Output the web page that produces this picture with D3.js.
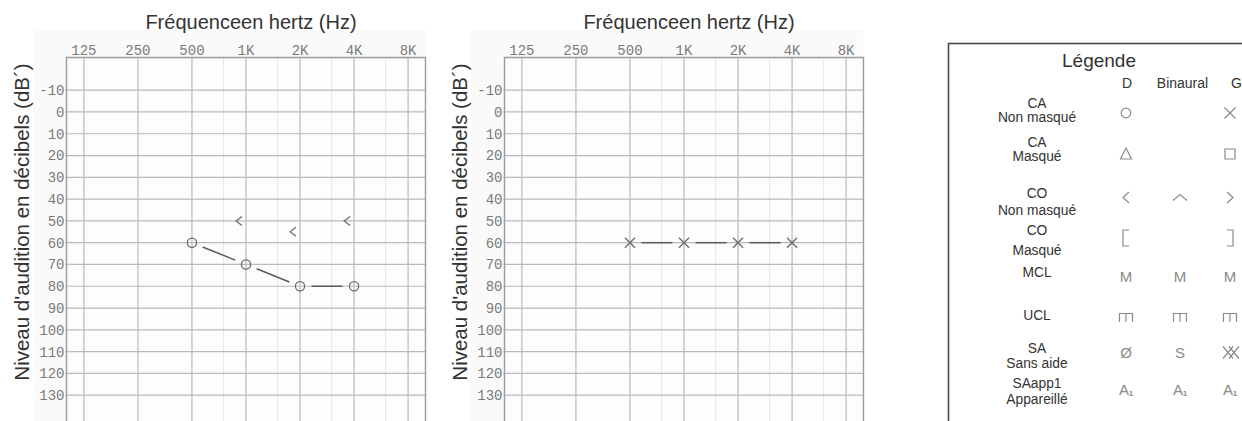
<!DOCTYPE html>
<html><head><meta charset="utf-8">
<script src="https://cdn.jsdelivr.net/npm/d3@7"></script>
<style>body{margin:0;background:#fff} svg{display:block}</style>
</head><body><svg id="c" width="1242" height="421"></svg>
<script>
// ---------- data ----------
const freqs = [125, 250, 500, 1000, 2000, 4000, 8000];
const freqLabels = ["125", "250", "500", "1K", "2K", "4K", "8K"];
const halfOctaves = [750, 1500, 3000, 6000];
const dbTicks = [-10, 0, 10, 20, 30, 40, 50, 60, 70, 80, 90, 100, 110, 120, 130];
const xTitle = "Fréquenceen hertz (Hz)";
const yTitle = "Niveau d'audition en décibels (dB´)";

// left audiogram: right ear air conduction (O) and bone conduction (<)
const leftACFreq = [500, 1000, 2000, 4000];
const leftACdB = [60, 70, 80, 80];
const leftBCFreq = [1000, 2000, 4000];
const leftBCdB = [50, 55, 50];

// right audiogram: left ear air conduction (X)
const rightACFreq = [500, 1000, 2000, 4000];
const rightACdB = [60, 60, 60, 60];

// legend
const legendTitle = "Légende";
const legendCols = ["D", "Binaural", "G"];
const legendLine1 = ["CA", "CA", "CO", "CO", "MCL", "UCL", "SA", "SAapp1"];
const legendLine2 = ["Non masqué", "Masqué", "Non masqué", "Masqué", "", "", "Sans aide", "Appareillé"];
const legendSymbols = [
  ["circle", null, "cross"],
  ["triangle", null, "square"],
  ["lt", "caret", "gt"],
  ["lbr", null, "rbr"],
  ["M", "M", "M"],
  ["ucl", "ucl", "ucl"],
  ["oslash", "S", "xx"],
  ["A1", "A1", "A1"]
];

// ---------- layout ----------
const svg = d3.select("#c");
const W = 1242, H = 421;
const chartOffsets = [0, 438];
const plotL = 66.5, plotR = 425.5, plotT = 57.5;
const dBpx = 2.1786;
const gridCol = "#b9b9b9";
const markCol = "#6a6a6a";
const lineCol = "#5a5a5a";
const sansFont = "'Liberation Sans', Arial, sans-serif";
const monoFont = "'Liberation Mono', 'Courier New', monospace";

function drawChart(dx, ac, bc, acSymbol) {
  const g = svg.append("g").attr("transform", `translate(${dx},0)`);
  const x = d3.scaleLog().base(2).domain([100, 10000]).range([plotL, plotR]);
  const y = d3.scaleLinear().domain([-25, 145]).range([plotT, plotT + 170 * dBpx]);
  const yB = Math.min(H + 5, y(145));

  // light panel
  g.append("rect").attr("x", 33).attr("y", 30).attr("width", plotR - 33).attr("height", H - 30)
    .attr("fill", "#fafafa");
  g.append("rect").attr("x", plotL).attr("y", plotT).attr("width", plotR - plotL).attr("height", H - plotT)
    .attr("fill", "#fdfdfd");

  // half-octave dotted lines
  g.selectAll(".half").data(halfOctaves).enter().append("line")
    .attr("x1", d => x(d)).attr("x2", d => x(d)).attr("y1", plotT).attr("y2", yB)
    .attr("stroke", "#cfcfcf").attr("stroke-width", 1).attr("stroke-dasharray", "1,1");
  // octave lines
  g.selectAll(".oct").data(freqs).enter().append("line")
    .attr("x1", d => x(d)).attr("x2", d => x(d)).attr("y1", plotT).attr("y2", yB)
    .attr("stroke", gridCol).attr("stroke-width", 1.2);
  // horizontal lines
  g.selectAll(".hl").data(dbTicks).enter().append("line")
    .attr("x1", plotL - 1).attr("x2", plotR).attr("y1", d => y(d)).attr("y2", d => y(d))
    .attr("stroke", gridCol).attr("stroke-width", 1.2);
  // border
  g.append("path").attr("d", `M${plotL},${yB}V${plotT}H${plotR}V${yB}`)
    .attr("fill", "none").attr("stroke", "#9a9a9a").attr("stroke-width", 1.4);

  // top tick labels
  g.selectAll(".xt").data(freqs).enter().append("text")
    .attr("x", d => x(d)).attr("y", 55).attr("text-anchor", "middle")
    .attr("font-family", monoFont).attr("font-size", 14).attr("fill", "#7a7a7a")
    .text((d, i) => freqLabels[i]);
  // left tick labels
  g.selectAll(".yt").data(dbTicks).enter().append("text")
    .attr("x", plotL - 2).attr("y", d => y(d)).attr("dy", "0.35em").attr("text-anchor", "end")
    .attr("font-family", monoFont).attr("font-size", 14).attr("fill", "#7a7a7a")
    .text(d => String(d));

  // titles
  g.append("text").attr("x", x(1000) + 5).attr("y", 28.5).attr("text-anchor", "middle")
    .attr("font-family", sansFont).attr("font-size", 20).attr("fill", "#333")
    .text(xTitle);
  g.append("text").attr("transform", `translate(28.5,222) rotate(-90)`).attr("text-anchor", "middle")
    .attr("font-family", sansFont).attr("font-size", 20.5).attr("fill", "#333")
    .text(yTitle);

  // connecting segments with gaps around markers
  const gap = 11.5;
  const pts = ac.f.map((f, i) => [x(f), y(ac.db[i])]);
  for (let i = 0; i < pts.length - 1; i++) {
    const [x1, y1] = pts[i], [x2, y2] = pts[i + 1];
    const len = Math.hypot(x2 - x1, y2 - y1);
    const ux = (x2 - x1) / len, uy = (y2 - y1) / len;
    g.append("line")
      .attr("x1", x1 + ux * gap).attr("y1", y1 + uy * gap)
      .attr("x2", x2 - ux * gap).attr("y2", y2 - uy * gap)
      .attr("stroke", lineCol).attr("stroke-width", 1.5);
  }
  // AC markers
  pts.forEach(([px, py]) => {
    if (acSymbol === "circle") {
      g.append("circle").attr("cx", px).attr("cy", py).attr("r", 4.6)
        .attr("fill", "none").attr("stroke", markCol).attr("stroke-width", 1.3);
    } else {
      const s = 5;
      g.append("path").attr("d", `M${px - s},${py - s}L${px + s},${py + s}M${px - s},${py + s}L${px + s},${py - s}`)
        .attr("stroke", markCol).attr("stroke-width", 1.3).attr("fill", "none");
    }
  });
  // BC markers "<"
  if (bc) {
    bc.f.forEach((f, i) => {
      const cx = x(f) - 7, cy = y(bc.db[i]);
      g.append("path").attr("d", `M${cx + 3},${cy - 4.5}L${cx - 3},${cy}L${cx + 3},${cy + 4.5}`)
        .attr("fill", "none").attr("stroke", markCol).attr("stroke-width", 1.2);
    });
  }
}

drawChart(chartOffsets[0], { f: leftACFreq, db: leftACdB }, { f: leftBCFreq, db: leftBCdB }, "circle");
drawChart(chartOffsets[1], { f: rightACFreq, db: rightACdB }, null, "cross");

// ---------- legend ----------
const lg = svg.append("g");
lg.append("rect").attr("x", 948.5).attr("y", 43.5).attr("width", 400).attr("height", 420)
  .attr("fill", "#fff").attr("stroke", "#4a4a4a").attr("stroke-width", 1.6);
lg.append("text").attr("x", 1099).attr("y", 67.3).attr("text-anchor", "middle")
  .attr("font-family", sansFont).attr("font-size", 19).attr("fill", "#333").text(legendTitle);

const colHeaderX = [1127, 1182.5, 1236.5];
const colSymX = [1126, 1180, 1230];
lg.selectAll(".lh").data(legendCols).enter().append("text")
  .attr("x", (d, i) => colHeaderX[i]).attr("y", 88.3).attr("text-anchor", "middle")
  .attr("font-family", sansFont).attr("font-size", 14).attr("fill", "#333").text(d => d);

const line1Y = [107.5, 146.7, 198.3, 235, 276.7, 320, 353.3, 388.3];
const line2Y = [121.7, 160.5, 214.5, 255, 0, 0, 368, 403.5];
const symY = [113, 154, 197.5, 238, 276.7, 317.5, 352.5, 390];
const labelX = 1037;

legendLine1.forEach((t, i) => {
  lg.append("text").attr("x", labelX).attr("y", line1Y[i]).attr("text-anchor", "middle")
    .attr("font-family", sansFont).attr("font-size", 13.8).attr("fill", "#333").text(t);
  if (legendLine2[i]) {
    lg.append("text").attr("x", labelX).attr("y", line2Y[i]).attr("text-anchor", "middle")
      .attr("font-family", sansFont).attr("font-size", 13.8).attr("fill", "#333").text(legendLine2[i]);
  }
});

const symCol = "#8a8a8a";
function drawSym(type, cx, cy) {
  const p = (d) => lg.append("path").attr("d", d).attr("fill", "none")
    .attr("stroke", symCol).attr("stroke-width", 1.2);
  const t = (s, dx, size) => lg.append("text").attr("x", cx + (dx || 0)).attr("y", cy).attr("dy", "0.36em")
    .attr("text-anchor", "middle").attr("font-family", sansFont).attr("font-size", size || 15)
    .attr("fill", symCol).text(s);
  switch (type) {
    case "circle":
      lg.append("circle").attr("cx", cx).attr("cy", cy).attr("r", 4.8).attr("fill", "none")
        .attr("stroke", symCol).attr("stroke-width", 1.2); break;
    case "cross": p(`M${cx-5.5},${cy-5.5}L${cx+5.5},${cy+5.5}M${cx-5.5},${cy+5.5}L${cx+5.5},${cy-5.5}`); break;
    case "triangle": p(`M${cx},${cy-6}L${cx+5.5},${cy+5}L${cx-5.5},${cy+5}Z`); break;
    case "square": p(`M${cx-5},${cy-5}H${cx+5}V${cy+5}H${cx-5}Z`); break;
    case "lt": p(`M${cx+3},${cy-5.5}L${cx-3},${cy}L${cx+3},${cy+5.5}`); break;
    case "gt": p(`M${cx-3},${cy-5.5}L${cx+3},${cy}L${cx-3},${cy+5.5}`); break;
    case "caret": p(`M${cx-7},${cy+3}L${cx},${cy-3}L${cx+7},${cy+3}`); break;
    case "lbr": p(`M${cx+3},${cy-8}H${cx-3}V${cy+8}H${cx+3}`); break;
    case "rbr": p(`M${cx-3},${cy-8}H${cx+3}V${cy+8}H${cx-3}`); break;
    case "M": t("M"); break;
    case "S": t("S"); break;
    case "oslash": t("Ø"); break;
    case "ucl": p(`M${cx-6.5},${cy+4.5}V${cy-4}H${cx+6.5}V${cy+4.5}M${cx},${cy-4}V${cy+4.5}`); break;
    case "xx":
      p(`M${cx-7},${cy-6}L${cx+3},${cy+6}M${cx-7},${cy+6}L${cx+3},${cy-6}M${cx-1},${cy-6}L${cx+9},${cy+6}M${cx-1},${cy+6}L${cx+9},${cy-6}`); break;
    case "A1":
      t("A", -2);
      lg.append("text").attr("x", cx + 5).attr("y", cy + 6).attr("text-anchor", "middle")
        .attr("font-family", sansFont).attr("font-size", 8).attr("font-weight", "bold")
        .attr("fill", symCol).text("1");
      break;
  }
}
legendSymbols.forEach((row, i) => {
  row.forEach((s, j) => { if (s) drawSym(s, colSymX[j], symY[i]); });
});
</script>
</body></html>
